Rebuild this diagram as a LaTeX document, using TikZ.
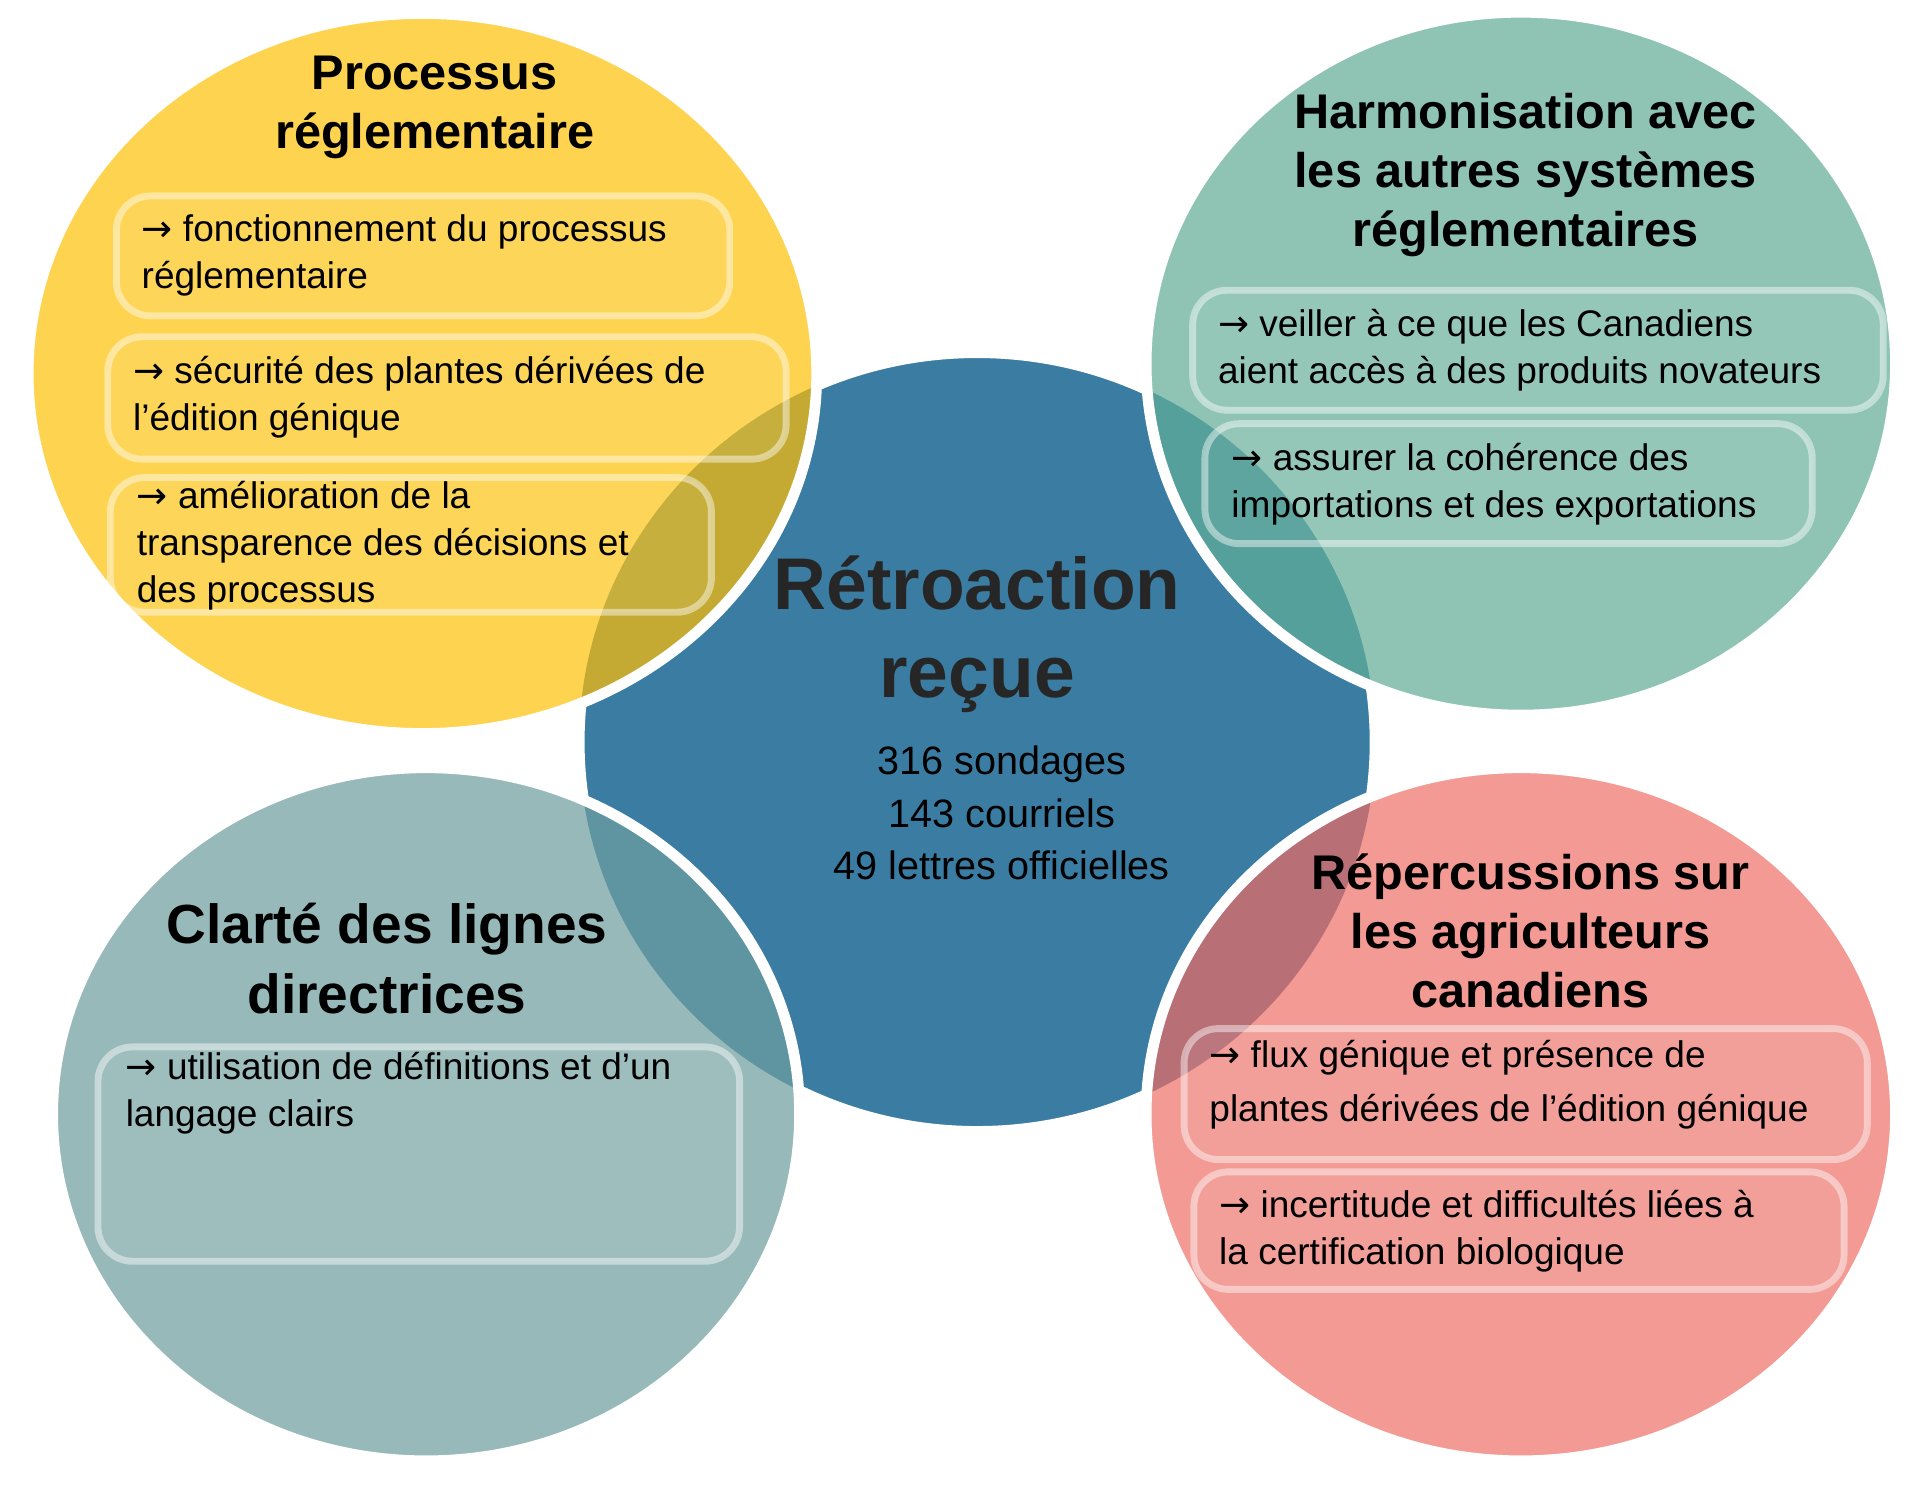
\documentclass[tikz,border=0pt]{standalone}
\usepackage{fontspec}
\setmainfont{Liberation Sans}
\newfontfamily\symf{DejaVu Sans}
\newcommand{\ar}{{\symf →}\ }
\definecolor{cyel}{HTML}{FDD34F}
\definecolor{cteal}{HTML}{8FC4B4}
\definecolor{cgray}{HTML}{98B9B9}
\definecolor{cpink}{HTML}{F29A93}
\definecolor{cblue}{HTML}{3A7CA2}
\definecolor{oyel}{HTML}{C4AA32}
\definecolor{oteal}{HTML}{55A09A}
\definecolor{ogray}{HTML}{5E95A0}
\definecolor{opink}{HTML}{B86F76}
\begin{document}
\begin{tikzpicture}[x=0.01cm,y=-0.01cm,
  bx/.style={draw=white,draw opacity=0.45,line width=1.6pt,rounded corners=8pt,fill=white,fill opacity=0.06},
  bt/.style={font=\fontsize{8.6}{10.9}\selectfont,align=left,anchor=north west,inner sep=0pt},
  ttl/.style={font=\bfseries\fontsize{11.3}{13.7}\selectfont,align=center,inner sep=0pt}]
\useasboundingbox[fill=white] (0,0) rectangle (1568,1224);
\def\blue{(798,606) ellipse [x radius=325,y radius=318]}
\def\yel{(345,305) ellipse [x radius=322,y radius=294]}
\def\teal{(1242,297) ellipse [x radius=306,y radius=287]}
\def\gray{(348,910) ellipse [x radius=305,y radius=283]}
\def\pink{(1242,910) ellipse [x radius=306,y radius=283]}
\fill[cblue] \blue;
\draw[white,line width=2.5pt] \blue;
\fill[cyel] \yel; \fill[cteal] \teal; \fill[cgray] \gray; \fill[cpink] \pink;
\begin{scope}\clip \blue;
\fill[oyel] \yel; \fill[oteal] \teal; \fill[ogray] \gray; \fill[opink] \pink;
\end{scope}
\draw[white,line width=2.5pt] \yel; \draw[white,line width=2.5pt] \teal;
\draw[white,line width=2.5pt] \gray; \draw[white,line width=2.5pt] \pink;
% boxes
\draw[bx] (95,160) rectangle (596,258) coordinate (b1);
\draw[bx] (88,275) rectangle (642,375) coordinate (b2);
\draw[bx] (90,390) rectangle (581,500) coordinate (b3);
\draw[bx] (974,237) rectangle (1538,335) coordinate (b4);
\draw[bx] (984,346) rectangle (1480,444) coordinate (b5);
\draw[bx] (80,855) rectangle (604,1030) coordinate (b6);
\draw[bx] (967,840) rectangle (1525,947) coordinate (b7);
\draw[bx] (975,957) rectangle (1506,1053) coordinate (b8);
% texts
\node[bt] (t1) at (115,175) {\ar fonctionnement du processus\\réglementaire};
\node[bt] (t2) at (108,290) {\ar sécurité des plantes dérivées de\\l’édition génique};
\node[bt] (t3) at (111,392) {\ar amélioration de la\\transparence des décisions et\\des processus};
\node[bt] (t4) at (994,252) {\ar veiller à ce que les Canadiens\\aient accès à des produits novateurs};
\node[bt] (t5) at (1005,361) {\ar assurer la cohérence des\\importations et des exportations};
\node[bt] (t6) at (102,859) {\ar utilisation de définitions et d’un\\langage clairs};
\node[bt,font=\fontsize{8.6}{12.4}\selectfont] (t7) at (987,849) {\ar flux génique et présence de\\plantes dérivées de l’édition génique};
\node[bt] (t8) at (995,971) {\ar incertitude et difficultés liées à\\la certification biologique};
% titles
\node[ttl] (h1) at (355,88) {Processus\\réglementaire};
\node[ttl] (h2) at (1246,143) {Harmonisation avec\\les autres systèmes\\réglementaires};
\node[ttl,font=\bfseries\fontsize{12.8}{16.2}\selectfont] (h3) at (316,783) {Clarté des lignes\\directrices};
\node[ttl] (h4) at (1250,760) {Répercussions sur\\les agriculteurs\\canadiens};
\node[ttl,font=\bfseries\fontsize{17}{20.5}\selectfont,text=black!85] (c) at (798,518) {Rétroaction\\reçue};
\node[align=center,inner sep=0pt,font=\fontsize{9.2}{12.2}\selectfont] (s) at (818,664) {316 sondages\\143 courriels\\49 lettres officielles};
\end{tikzpicture}
\end{document}
